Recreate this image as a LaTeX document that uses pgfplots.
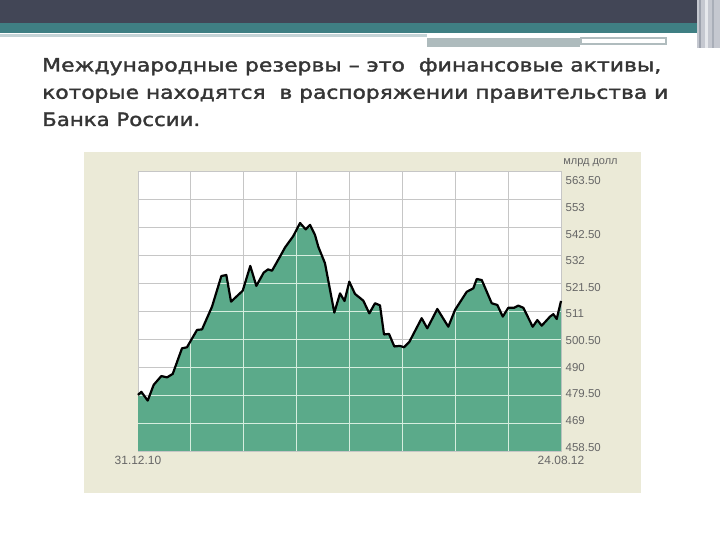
\documentclass[border=0pt]{standalone}
\usepackage{pgfplots}
\pgfplotsset{compat=1.18}
\usepackage{pgfplotstable}
\usepackage{graphicx}
\usepackage{fontspec}
\setmainfont{DejaVu Sans}
\newfontfamily\titlefont[FakeBold=1.6]{DejaVu Sans}
\newfontfamily\lab{Liberation Sans}

\definecolor{headerdark}{HTML}{424656}
\definecolor{headerteal}{HTML}{3F7F83}
\definecolor{panel}{HTML}{EBEAD7}
\definecolor{fillgreen}{HTML}{5BAA8A}
\definecolor{gridgray}{HTML}{C6C6C6}
\definecolor{gridlight}{HTML}{D6EEDF}
\definecolor{labelgray}{HTML}{666666}
\definecolor{titlegray}{HTML}{353535}
\definecolor{hA}{HTML}{C4D3D6}
\definecolor{hB}{HTML}{AEBBBD}
\definecolor{hC}{HTML}{B0BCBE}
\definecolor{hD}{HTML}{C5C8D0}
\definecolor{hE}{HTML}{9EA3AE}
\definecolor{hF}{HTML}{E6E8EC}
\definecolor{hG}{HTML}{A9AEB8}

\pgfplotstableread{
d v
0 479.5
4.7 480.7
13.8 477.4
22.3 483.3
33.2 486.6
41.3 486.1
49.4 487.4
62.6 497.0
69.7 497.4
84.0 503.9
91.1 504.1
105.3 512.6
118.6 524.1
125.7 524.5
132.4 514.5
140.9 516.6
149.0 518.6
159.8 527.9
168.4 520.4
178.9 525.4
185.0 526.6
190.7 526.1
202.1 531.4
209.2 534.8
221.0 539.1
230.6 544.0
238.7 541.6
244.8 543.3
251.9 539.5
256.6 535.1
266.1 528.9
279.4 510.4
287.5 517.6
293.9 514.75
300.7 522.0
308.8 517.4
320.6 514.9
329.2 510.1
337.3 513.9
344.4 513.1
350.1 502.2
357.2 502.4
364.8 497.7
372.9 497.9
378.6 497.4
386.1 499.4
403.7 508.3
411.7 504.5
426.0 511.75
441.6 505.1
451.2 511.4
467.8 518.2
477.2 519.5
482.1 523.0
489.2 522.6
503.4 513.9
511.4 513.25
519.1 508.9
527.0 512.2
535.1 512.2
541.3 513.0
548.4 512.2
561.7 505.1
568.3 507.6
574.6 505.5
586.4 508.9
591.1 509.8
595.9 508.0
602 514.75
}\reserves

\begin{document}
\begin{tikzpicture}[x=1bp,y=1bp]
\path[use as bounding box, fill=white] (0,0) rectangle (720,540);
% header
\fill[headerdark] (0,517) rectangle (720,540);
\fill[headerteal] (0,507) rectangle (697,517);
\fill[hA] (0,503) rectangle (427,506);
\fill[hB] (427,493) rectangle (580,502);
\fill[hC] (580,495) rectangle (667,503);
\fill[white] (582,497) rectangle (665,501);
\fill[hD] (697,492) rectangle (720,540);
\fill[hE] (699,492) rectangle (701,540);
\fill[hF] (705,492) rectangle (708,540);
\fill[hG] (712,492) rectangle (714,540);
% title
\node[anchor=base west, inner sep=0pt, text=titlegray] at (42,468.5)
  {\resizebox{619bp}{\height}{\titlefont\fontsize{18.4}{22}\selectfont Международные резервы – это~ финансовые активы,}};
\node[anchor=base west, inner sep=0pt, text=titlegray] at (42,441.2)
  {\resizebox{626bp}{\height}{\titlefont\fontsize{18.4}{22}\selectfont которые находятся~ в распоряжении правительства и}};
\node[anchor=base west, inner sep=0pt, text=titlegray] at (42,414)
  {\resizebox{158bp}{\height}{\titlefont\fontsize{18.4}{22}\selectfont Банка России.}};
% panel
\fill[panel] (84,47) rectangle (641,388);
\node[anchor=center, inner sep=0pt, text=labelgray, font=\lab\fontsize{11}{12}\selectfont] at (590.5,377) {млрд долл};

% axis A: white background, gray grid, green fill with light grid inside, black line
\begin{axis}[
  at={(138bp,89bp)}, anchor=south west,
  width=423bp, height=280bp, scale only axis,
  xmin=0, xmax=602, ymin=458.5, ymax=563.5,
  xtick={0,75.25,150.5,225.75,301,376.25,451.5,526.75,602},
  ytick={458.5,469,479.5,490,500.5,511,521.5,532,542.5,553,563.5},
  xticklabels={}, yticklabels={},
  major tick length=0pt,
  grid=major,
  grid style={draw=gridgray, line width=0.8bp},
  axis line style={draw=gridgray, line width=0.8bp},
  axis background/.style={fill=white},
  clip=false,
]
\addplot[draw=none, fill=fillgreen, path picture={
  \foreach \xx in {75.25,150.5,225.75,301,376.25,451.5,526.75}
    {\draw[path picture={}, draw=gridlight, fill=none, line width=0.8bp] (axis cs:\xx,458.5) -- (axis cs:\xx,563.5);}
  \foreach \yy in {469,479.5,490,500.5,511,521.5,532,542.5,553}
    {\draw[path picture={}, draw=gridlight, fill=none, line width=0.8bp] (axis cs:0,\yy) -- (axis cs:602,\yy);}
}] table[x=d, y=v] {\reserves} -- (axis cs:602,458.5) -- (axis cs:0,458.5) -- cycle;
\addplot[black, line width=2.2bp, line join=round] table[x=d, y=v] {\reserves};
\end{axis}

% axis D: tick labels
\begin{axis}[
  at={(138bp,89bp)}, anchor=south west,
  width=423bp, height=280bp, scale only axis,
  xmin=0, xmax=602, ymin=457.0, ymax=567.36,
  axis line style={draw=none},
  major tick length=0pt,
  xtick={0,602}, xticklabels={31.12.10,24.08.12},
  ytick={458.5,469,479.5,490,500.5,511,521.5,532,542.5,553,563.5},
  yticklabels={458.50,469,479.50,490,500.50,511,521.50,532,542.50,553,563.50},
  yticklabel pos=right,
  /pgf/number format/assume math mode=true,
  ticklabel style={text=labelgray},
  yticklabel style={anchor=west, inner sep=0pt, xshift=4.5bp, font=\lab\fontsize{11.5}{12}\selectfont},
  xticklabel style={anchor=base, inner sep=0pt, yshift=-13.3bp, font=\lab\fontsize{12}{13}\selectfont},
]
\end{axis}
\end{tikzpicture}
\end{document}
